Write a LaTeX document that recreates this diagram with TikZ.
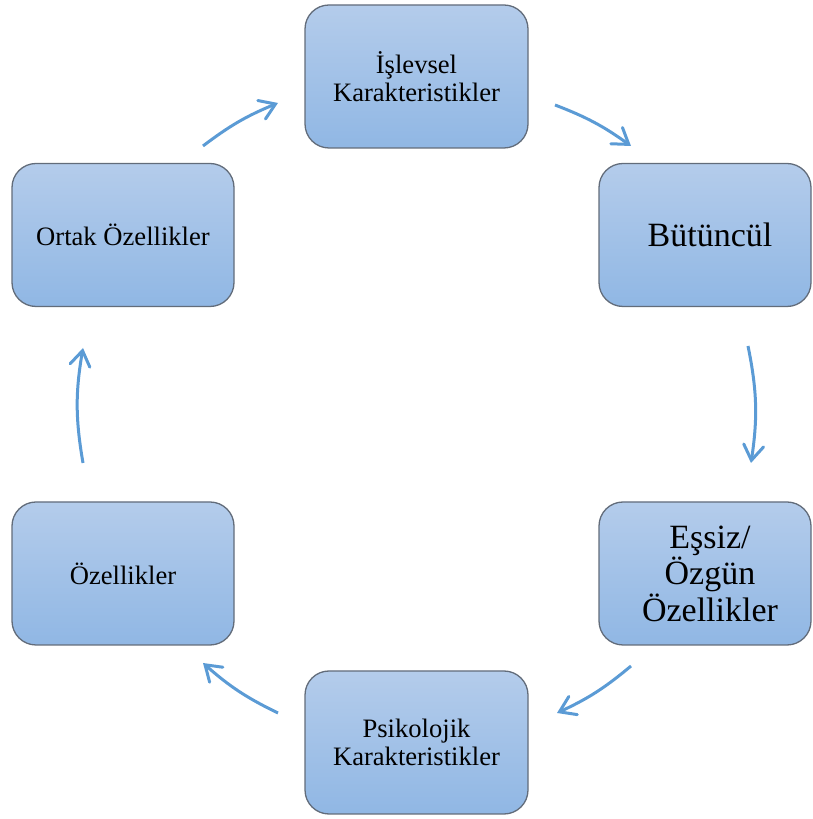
\documentclass[tikz,border=0pt]{standalone}
\usepackage{fontspec}
\setmainfont{Liberation Serif}
\usetikzlibrary{arrows.meta}
\definecolor{boxtop}{RGB}{180,204,235}
\definecolor{boxbot}{RGB}{144,183,228}
\definecolor{boxline}{RGB}{98,108,122}
\definecolor{arrowblue}{RGB}{91,155,213}
\newcommand{\rs}{\hspace*{10pt}}
\begin{document}
\begin{tikzpicture}[x=1pt,y=1pt,
  card/.style={draw=boxline, line width=1.3pt, rounded corners=24pt,
    top color=boxtop, bottom color=boxbot, inner sep=0pt,
    minimum width=223pt, minimum height=143pt, align=center,
    font=\fontsize{26.6}{28.5}\selectfont},
  bigcard/.style={card, minimum width=212pt, font=\fontsize{34}{36.5}\selectfont},
  cyc/.style={draw=arrowblue, line width=3pt,
    -{Straight Barb[length=15pt,width=20pt,line cap=round]}}]
\useasboundingbox (0,0) rectangle (812,819);
\node[card] (isl) at (416.5,742.5) {İşlevsel\\Karakteristikler};
\node[bigcard] (but) at (705,584) {\rs Bütüncül};
\node[bigcard] (ess) at (705,245.5) {\rs Eşsiz/\\\rs Özgün\\\rs Özellikler};
\node[card] (psi) at (416.5,76.5) {Psikolojik\\Karakteristikler};
\node[card, minimum width=222pt] (oze) at (123,245.5) {Özellikler};
\node[card, minimum width=222pt] (ort) at (123,584) {Ortak Özellikler};
\coordinate (a1s) at (203,673); \coordinate (a1e) at (278,716);
\coordinate (a2s) at (555,714); \coordinate (a2e) at (631,673);
\coordinate (a3s) at (748,473); \coordinate (a3e) at (751,356);
\coordinate (a4s) at (631,153); \coordinate (a4e) at (557,106);
\coordinate (a5s) at (278,106); \coordinate (a5e) at (203,156);
\coordinate (a6s) at (83,356);  \coordinate (a6e) at (83,471);
\draw[cyc] (a1s) to[bend left=7.4] (a1e);
\draw[cyc] (a2s) to[bend left=7.4] (a2e);
\draw[cyc] (a3s) to[bend left=10] (a3e);
\draw[cyc] (a4s) to[bend left=7.5] (a4e);
\draw[cyc] (a5s) to[bend left=7.8] (a5e);
\draw[cyc] (a6s) to[bend left=9.8] (a6e);
\end{tikzpicture}
\end{document}
